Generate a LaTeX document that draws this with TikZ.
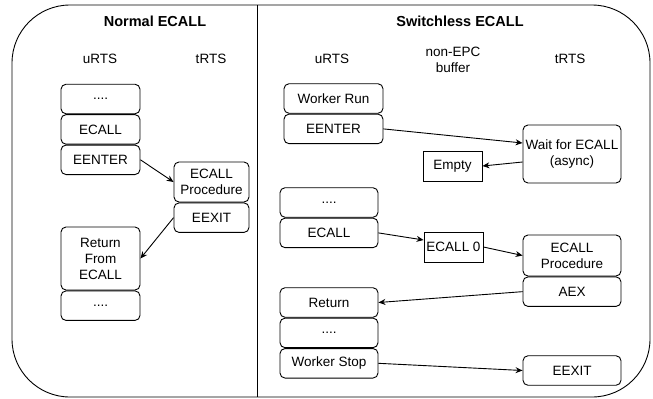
\documentclass[tikz,border=0pt]{standalone}
\usepackage{fontspec}
\setmainfont{Liberation Sans}
\usetikzlibrary{arrows.meta,positioning}
\tikzset{
    flow diagram/.style = {>={Stealth[length=7bp, width=6bp]},
                           x=1bp, y=-1bp,
                           font=\fontsize{13.5bp}{16bp}\selectfont},
    line/.style         = {line width=0.9bp},
    frame/.style        = {draw, line width=0.9bp, rounded corners=58bp},
    call/.style         = {draw, line width=0.9bp, rounded corners=5bp,
                           fill=white, align=center, inner sep=0pt,
                           minimum height=29.5bp},
    nblock/.style       = {call, minimum width=79bp},
    tblock/.style       = {call, minimum width=75bp},
    wblock/.style       = {call, minimum width=98bp},
    slot/.style         = {draw, line width=0.9bp, inner sep=0pt,
                           minimum width=59bp, minimum height=30bp},
    heading/.style      = {font=\fontsize{14.5bp}{17bp}\selectfont\bfseries},
    column/.style       = {align=center}
}

\begin{document}
\begin{tikzpicture}[flow diagram]
\useasboundingbox (0,0) rectangle (653,398);

% Outer frame, split into the two call paths.
\draw[frame] (12,5) rectangle (650,397);
\coordinate (split top) at (257,5);
\coordinate (split bottom) at (257,397);
\draw[line] (split top) -- (split bottom);

% Normal ECALL: enclave transition in both directions.
\node[heading] (normal) at (155,21) {Normal ECALL};
\node[column] (n urts) at (100,59) {uRTS};
\node[column] (n trts) at (211,59) {tRTS};

\node[nblock] (n dots) at (100.5,99) {....};
\node[nblock, below=0pt of n dots] (n ecall) {ECALL};
\node[nblock, below=0pt of n ecall] (n eenter) {EENTER};
\node[tblock, minimum height=40bp] (n proc) at (211.5,182) {ECALL\\Procedure};
\node[tblock, below=0pt of n proc] (n eexit) {EEXIT};
\node[nblock, minimum height=63bp] (n return) at (100.5,258.5)
    {Return\\From\\ECALL};
\node[nblock, below=0pt of n return] (n tail) {....};

\draw[->, line] (n eenter.east) -- (n proc.west);
\draw[->, line] (n eexit.west) -- (n return.east);

% Switchless ECALL: requests pass through the shared buffer.
\node[heading] (switchless) at (460,21) {Switchless ECALL};
\node[column] (s urts) at (332,59) {uRTS};
\node[column] (s buffer) at (453,60) {non-EPC\\buffer};
\node[column] (s trts) at (570,59) {tRTS};

\node[wblock, minimum width=99bp] (s run) at (333.5,98.5) {Worker Run};
\node[wblock, minimum width=99bp, below=0pt of s run] (s eenter) {EENTER};
\node[wblock, minimum height=58bp] (s wait) at (572,154)
    {Wait for ECALL\\(async)};
\node[slot] (s empty) at (452.5,166) {Empty};

\draw[->, line] (s eenter.east) -- ([yshift=11bp]s wait.west);
\draw[->, line] ([yshift=-8bp]s wait.west) -- (s empty.east);

\node[wblock] (s dots) at (329,202.5) {....};
\node[wblock, below=0pt of s dots] (s ecall) {ECALL};
\node[slot] (s slot) at (453.5,247) {ECALL 0};
\node[wblock, minimum height=41bp] (s proc) at (572,255.5)
    {ECALL\\Procedure};
\node[wblock, below=0pt of s proc] (s aex) {AEX};

\draw[->, line] (s ecall.east) -- ([yshift=7bp]s slot.west);
\draw[->, line] (s slot.east) -- (s proc.west);

\node[wblock] (s return) at (329,302.5) {Return};
\node[wblock, below=0pt of s return] (s more) {....};
\node[wblock, below=0pt of s more] (s stop) {Worker Stop};
\node[wblock] (s eexit) at (572,370.5) {EEXIT};

\draw[->, line] (s aex.west) -- (s return.east);
\draw[->, line] (s stop.east) -- (s eexit.west);

\end{tikzpicture}
\end{document}
